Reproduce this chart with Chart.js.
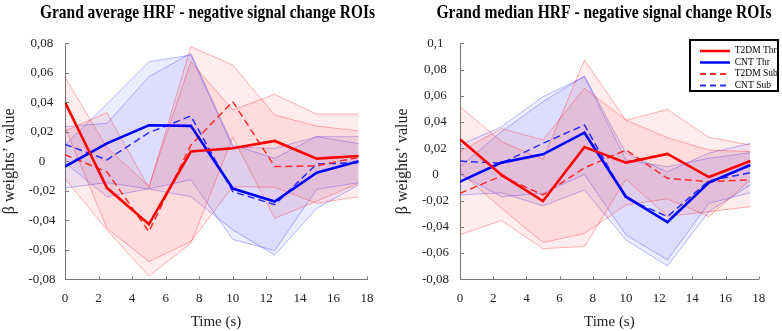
<!DOCTYPE html>
<html><head><meta charset="utf-8">
<script src="https://cdn.jsdelivr.net/npm/chart.js@4/dist/chart.umd.min.js"></script>
<style>
html,body{margin:0;padding:0;background:#fff;}
#wrap{position:relative;width:782px;height:331px;overflow:hidden;background:#fff;}
.panel{position:absolute;top:0;width:391px;height:331px;}
</style></head><body>
<div id="wrap">
<div class="panel" style="left:0"><canvas id="c1" width="391" height="331"></canvas></div>
<div class="panel" style="left:391px"><canvas id="c2" width="391" height="331"></canvas></div>
</div>
<script>
// ---------- DATA ----------
const timeSec = [0, 2.5, 5, 7.5, 10, 12.5, 15, 17.5];
const seriesNames = ['T2DM Thr', 'CNT Thr', 'T2DM Sub', 'CNT Sub'];
const titleAvg = 'Grand average HRF - negative signal change ROIs';
const titleMed = 'Grand median HRF - negative signal change ROIs';
const xTitle = 'Time (s)';
const yTitle = 'β weights\u2019 value';

// Grand average
const avgT2dmThr   = [0.040, -0.018, -0.0427, 0.0066, 0.0088, 0.0138, 0.0018, 0.0036];
const avgT2dmThrUp = [0.057, 0.0094, -0.017, 0.0675, 0.0348, 0.0454, 0.032, 0.032];
const avgT2dmThrLo = [0.023, -0.0454, -0.068, -0.0545, -0.0172, -0.0176, -0.0285, -0.024];
const avgCntThr    = [-0.0036, 0.0122, 0.0244, 0.024, -0.0185, -0.0273, -0.0077, 0.0];
const avgCntThrUp  = [0.011, 0.039, 0.0675, 0.072, 0.0095, 0.0088, 0.0167, 0.0167];
const avgCntThrLo  = [-0.018, -0.0145, -0.0187, -0.024, -0.0465, -0.0635, -0.032, -0.016];
const avgT2dmSub   = [0.0045, -0.0072, -0.0477, 0.011, 0.0405, -0.0036, -0.003, 0.0027];
const avgT2dmSubUp = [0.0206, 0.033, -0.018, 0.0777, 0.0653, 0.0314, 0.0239, 0.0207];
const avgT2dmSubLo = [-0.0118, -0.0466, -0.0778, -0.0556, 0.0163, -0.0387, -0.027, -0.0149];
const avgCntSub    = [0.0115, 0.001, 0.0194, 0.0307, -0.0206, -0.0294, -0.0018, -0.001];
const avgCntSubUp  = [0.0235, 0.0258, 0.0574, 0.0732, 0.011, 0.002, 0.0167, 0.012];
const avgCntSubLo  = [-0.001, -0.024, -0.0186, -0.0125, -0.053, -0.0605, -0.019, -0.0145];

// Grand median
const medT2dmThr   = [0.0268, -0.0004, -0.0203, 0.0209, 0.009, 0.0156, -0.002, 0.0102];
const medT2dmThrUp = [0.0517, 0.025, 0.0115, 0.0872, 0.0413, 0.0496, 0.0283, 0.0224];
const medT2dmThrLo = [0.0019, -0.0258, -0.052, -0.045, -0.0233, -0.0186, -0.0322, -0.0042];
const medCntThr    = [-0.0055, 0.009, 0.0153, 0.0318, -0.017, -0.0363, -0.0063, 0.0072];
const medCntThrUp  = [0.006, 0.0326, 0.0555, 0.075, 0.0161, 0.002, 0.0163, 0.0237];
const medCntThrLo  = [-0.0157, -0.014, -0.024, -0.0119, -0.05, -0.0698, -0.0284, -0.008];
const medT2dmSub   = [-0.0144, -0.0012, -0.0157, 0.005, 0.0186, -0.003, -0.0055, -0.0042];
const medT2dmSubUp = [0.0174, 0.035, 0.0263, 0.0656, 0.0415, 0.028, 0.0186, 0.0174];
const medT2dmSubLo = [-0.046, -0.0352, -0.0566, -0.055, -0.0037, -0.032, -0.0284, -0.0246];
const medCntSub    = [0.0102, 0.0085, 0.0237, 0.0377, -0.0182, -0.0322, -0.0048, 0.0013];
const medCntSubUp  = [0.0224, 0.0364, 0.0593, 0.0745, 0.011, 0.0059, 0.0123, 0.0166];
const medCntSubLo  = [0.0, -0.017, -0.0144, 0.0, -0.0462, -0.0652, -0.022, -0.014];

// ---------- STYLE ----------
const RED = '#ff0000', BLUE = '#0000ff';
const RED_D = '#ff2a2a', BLUE_D = '#2a2aff';
const RED_LINE = 'rgba(255,0,0,0.30)', BLUE_LINE = 'rgba(0,0,255,0.28)';
const RED_FILL = 'rgba(255,0,0,0.075)', BLUE_FILL = 'rgba(0,0,255,0.07)';
const SERIF = "'Liberation Serif', 'Times New Roman', serif";

const pts = arr => arr.map((v, i) => ({ x: timeSec[i], y: v }));
function mainLine(label, arr, color, width, dash) {
  return { label, data: pts(arr), borderColor: color, backgroundColor: color, borderWidth: width,
           borderDash: dash, fill: false, pointRadius: 0, tension: 0 };
}
function bandLine(arr, color, fillColor) {
  return { label: '', data: pts(arr), borderColor: color, borderWidth: 1, pointRadius: 0, tension: 0,
           backgroundColor: fillColor || 'transparent', fill: fillColor ? '+1' : false };
}
function buildDatasets(s) {
  return [
    mainLine(seriesNames[0], s[0], RED, 2.6, []),
    mainLine(seriesNames[1], s[3], BLUE, 2.6, []),
    mainLine(seriesNames[2], s[6], RED_D, 1.5, [7, 4]),
    mainLine(seriesNames[3], s[9], BLUE_D, 1.5, [7, 4]),
    bandLine(s[1], RED_LINE, RED_FILL), bandLine(s[2], RED_LINE, null),
    bandLine(s[7], RED_LINE, RED_FILL), bandLine(s[8], RED_LINE, null),
    bandLine(s[4], BLUE_LINE, BLUE_FILL), bandLine(s[5], BLUE_LINE, null),
    bandLine(s[10], BLUE_LINE, BLUE_FILL), bandLine(s[11], BLUE_LINE, null)
  ];
}
const fmtTick = v => {
  let s = (Math.round(v * 100) / 100).toFixed(2).replace(/0+$/, '').replace(/\.$/, '');
  if (s === '-0') s = '0';
  return s.replace('.', ',');
};

const inwardTicks = {
  id: 'inwardTicks',
  afterDraw(chart) {
    const { ctx, chartArea: a } = chart;
    const x = chart.scales.x, y = chart.scales.y;
    ctx.save(); ctx.strokeStyle = '#777'; ctx.lineWidth = 1;
    x.ticks.forEach(t => { const px = Math.round(x.getPixelForValue(t.value)) + 0.5;
      ctx.beginPath(); ctx.moveTo(px, a.bottom); ctx.lineTo(px, a.bottom - 3); ctx.stroke(); });
    y.ticks.forEach(t => { const py = Math.round(y.getPixelForValue(t.value)) + 0.5;
      ctx.beginPath(); ctx.moveTo(a.left, py); ctx.lineTo(a.left + 4, py); ctx.stroke(); });
    ctx.restore();
  }
};
const panelTitle = {
  id: 'panelTitle',
  afterDraw(chart, args, o) {
    if (!o || !o.text) return;
    const ctx = chart.ctx;
    ctx.save();
    ctx.font = 'bold 19px ' + SERIF;
    ctx.fillStyle = '#000'; ctx.textAlign = 'center'; ctx.textBaseline = 'alphabetic';
    ctx.fillText(o.text, o.cx, o.baseline, o.maxWidth);
    ctx.restore();
  }
};
const legendFrame = {
  id: 'legendFrame',
  afterLayout(chart, args, o) {
    const lg = chart.legend;
    if (!o || !o.display || !lg) return;
    const w = lg.width, h = lg.height;
    lg.left = o.left; lg.top = o.top; lg.right = o.left + w; lg.bottom = o.top + h;
  },
  afterDraw(chart, args, o) {
    if (!o || !o.display) return;
    const ctx = chart.ctx;
    ctx.save(); ctx.strokeStyle = '#000'; ctx.lineWidth = 2;
    ctx.strokeRect(o.boxX, o.boxY, o.boxW, o.boxH);
    ctx.restore();
  }
};

function makeChart(id, series, cfg) {
  return new Chart(document.getElementById(id), {
    type: 'line',
    data: { datasets: buildDatasets(series) },
    options: {
      responsive: false, animation: false, devicePixelRatio: 1,
      layout: { padding: { left: 0, right: cfg.padR, top: 43.3, bottom: 0 } },
      scales: {
        x: {
          type: 'linear', min: 0, max: 18,
          afterFit(s) { s.height = 51.7; },
          ticks: { stepSize: 2, padding: 11, maxRotation: 0, autoSkip: false, color: '#222',
                   font: { family: SERIF, size: 13 } },
          grid: { display: false, drawTicks: false },
          border: { display: true, color: '#777', width: 1 },
          title: { display: true, text: xTitle, color: '#222', padding: { top: 0, bottom: 0 },
                   font: { family: SERIF, size: 15 } }
        },
        y: {
          min: cfg.yMin, max: cfg.yMax,
          afterFit(s) { s.width = cfg.yAxisW; },
          ticks: { stepSize: 0.02, callback: v => fmtTick(v), crossAlign: 'center', padding: cfg.tickPad,
                   color: '#222', font: { family: SERIF, size: 13 } },
          grid: { display: false, drawTicks: false },
          border: { display: true, color: '#777', width: 1 },
          title: { display: true, text: yTitle, color: '#222', padding: { top: cfg.yTitlePad, bottom: 0 },
                   font: { family: SERIF, size: 16 } }
        }
      },
      plugins: {
        title: { display: false },
        panelTitle: { text: cfg.title, cx: cfg.titleCx, baseline: 18, maxWidth: 335 },
        legend: {
          display: cfg.legend, position: 'chartArea', align: 'start',
          labels: { usePointStyle: true, pointStyle: 'line', pointStyleWidth: 30, boxHeight: 9, padding: 2,
                    color: '#000', font: { family: SERIF, size: 9.5 },
                    filter: item => item.datasetIndex < 4,
                    generateLabels(chart) {
                      const items = Chart.defaults.plugins.legend.labels.generateLabels(chart);
                      items.forEach(it => {
                        it.lineWidth = it.datasetIndex < 2 ? 2.6 : 2;
                        it.lineDash = it.datasetIndex < 2 ? [] : [6, 4];
                      });
                      return items;
                    } }
        },
        legendFrame: { display: cfg.legend, left: 307, top: 44.2, boxX: 299, boxY: 40, boxW: 88, boxH: 51 },
        tooltip: { enabled: false }
      }
    },
    plugins: [inwardTicks, panelTitle, legendFrame]
  });
}

makeChart('c1', [avgT2dmThr, avgT2dmThrUp, avgT2dmThrLo, avgCntThr, avgCntThrUp, avgCntThrLo,
                 avgT2dmSub, avgT2dmSubUp, avgT2dmSubLo, avgCntSub, avgCntSubUp, avgCntSubLo],
  { title: titleAvg, titleCx: 207.5, yMin: -0.08, yMax: 0.08, padR: 24, yAxisW: 65, tickPad: 9.5,
    yTitlePad: 0.4, legend: false });
makeChart('c2', [medT2dmThr, medT2dmThrUp, medT2dmThrLo, medCntThr, medCntThrUp, medCntThrLo,
                 medT2dmSub, medT2dmSubUp, medT2dmSubLo, medCntSub, medCntSubUp, medCntSubLo],
  { title: titleMed, titleCx: 213, yMin: -0.08, yMax: 0.1, padR: 23.3, yAxisW: 69, tickPad: 11,
    yTitlePad: 2.1, legend: true });
</script>
</body></html>
